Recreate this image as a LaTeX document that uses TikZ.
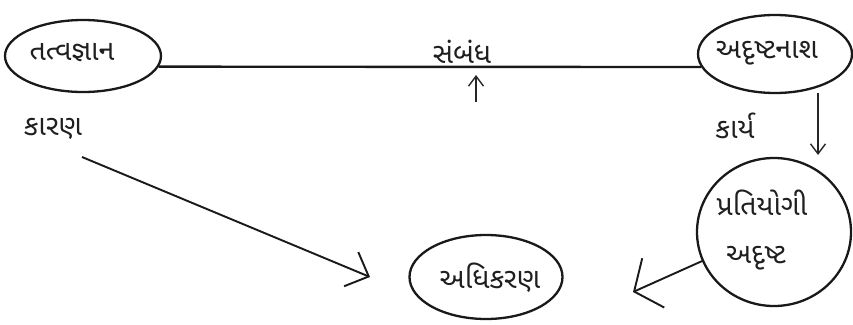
\documentclass[tikz,border=0pt]{standalone}
\usepackage{fontspec}
\newfontfamily\gujfont[Script=Gujarati]{Noto Sans Gujarati UI}
\usetikzlibrary{shapes.geometric,arrows.meta}
\begin{document}
\begin{tikzpicture}[x=1pt,y=1pt,
  shapeline/.style={draw=black!90,line width=2.3pt,ellipse,inner sep=0pt},
  gtext/.style={font=\gujfont\fontsize{28.5}{33}\selectfont,inner sep=0pt,text=black!88},
  conn/.style={draw=black!90,line width=1.9pt},
  thin arrow/.style={draw=black!85,line width=1.4pt,-{Straight Barb[length=10pt,width=15pt,line width=1.4pt]}},
]
\useasboundingbox (0,0) rectangle (853,-324);
% shapes
\node[shapeline,minimum width=156,minimum height=72] (e1) at (83,-56) {};
\node[shapeline,minimum width=154,minimum height=78] (e2) at (775,-54) {};
\node[shapeline,minimum width=153,minimum height=84] (e3) at (486,-277) {};
\node[shapeline,minimum width=154,minimum height=148] (e4) at (774,-232) {};
% texts
\node[gtext] (t1) at (72,-53) {તત્વજ્ઞાન};
\node[gtext] (t2) at (462,-52) {સંબંધ};
\node[gtext] (t3) at (767,-53) {અદૃષ્ટનાશ};
\node[gtext] (t4) at (53,-129) {કારણ};
\node[gtext] (t5) at (735,-126) {કાર્ય};
\node[gtext] (t6) at (762,-203) {પ્રતિયોગી};
\node[gtext] (t7) at (756,-258) {અદૃષ્ટ};
\node[gtext] (t8) at (490,-278) {અધિકરણ};
% free ends
\coordinate (upS) at (476,-102);
\coordinate (upT) at (476,-75);
\coordinate (dnS) at (818,-93);
\coordinate (dnT) at (818,-155);
\coordinate (lS) at (82,-157);
\coordinate (lT) at (370,-277);
\coordinate (cT) at (633,-292);
% connectors
\draw[conn,line width=2.4pt] (e1.-8.42) -- (e2.190.15);
\draw[thin arrow] (upS) -- (upT);
\draw[thin arrow] (dnS) -- (dnT);
\draw[conn,-{Straight Barb[length=19pt,width=37pt,line width=1.9pt]}] (lS) -- (lT);
\draw[conn,-{Straight Barb[length=21pt,width=54pt,line width=1.9pt]}] (e4.202.9) -- (cT);
\end{tikzpicture}
\end{document}
